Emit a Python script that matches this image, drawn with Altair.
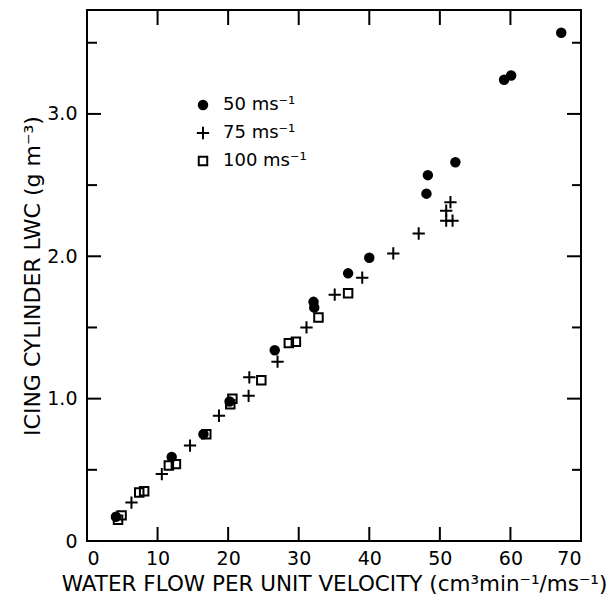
import altair as alt
import pandas as pd

series_labels = ["50 ms⁻¹", "75 ms⁻¹", "100 ms⁻¹"]

x50 = [4.1, 12.0, 16.5, 20.2, 26.6, 32.1, 32.2, 37.0, 40.0, 48.1, 48.3, 52.2, 59.1, 60.1, 67.2]
y50 = [0.17, 0.59, 0.75, 0.98, 1.34, 1.68, 1.64, 1.88, 1.99, 2.44, 2.57, 2.66, 3.24, 3.27, 3.57]

x75 = [6.3, 10.6, 14.6, 18.7, 22.9, 23.0, 27.0, 31.1, 35.1, 39.0, 43.4, 47.0, 51.5, 50.9, 50.9, 51.8]
y75 = [0.27, 0.47, 0.67, 0.88, 1.02, 1.15, 1.26, 1.50, 1.73, 1.85, 2.02, 2.16, 2.38, 2.32, 2.25, 2.25]

x100 = [4.4, 4.9, 7.4, 8.1, 11.6, 12.6, 16.9, 20.3, 20.6, 24.7, 28.6, 29.6, 32.8, 37.0]
y100 = [0.15, 0.18, 0.34, 0.35, 0.53, 0.54, 0.75, 0.96, 1.00, 1.13, 1.39, 1.40, 1.57, 1.74]

x_tick_values = [10, 20, 30, 40, 50, 60]
x_label_values = [0, 10, 20, 30, 40, 50, 60, 70]
y_label_values = [0, 1, 2, 3]
y_major_values = [1, 2, 3]
y_minor_values = [0.5, 1.5, 2.5, 3.5]

rows = []
for lab, xs_, ys_ in zip(series_labels, [x50, x75, x100], [y50, y75, y100]):
    for a, b in zip(xs_, ys_):
        rows.append({"x": a, "y": b, "series": lab})
df = pd.DataFrame(rows)

W, H = 494, 531
FONT = "DejaVu Sans"
SYM = 72
PLUS = "M-1.45,0H1.45M0,-1.45V1.45"

xscale = alt.Scale(domain=[0, 70], nice=False, zero=False)
yscale = alt.Scale(domain=[0, 3.73], nice=False, zero=False)

x_axis = alt.Axis(
    values=x_label_values, ticks=False, domain=False, grid=False,
    labelFontSize=19, labelFont=FONT, labelColor="black", labelPadding=8,
    title="WATER FLOW PER UNIT VELOCITY (cm³min⁻¹/ms⁻¹)",
    titleFont=FONT, titleFontSize=21.5, titleFontWeight="normal", titleColor="black",
    titleX=W / 2, titleY=49, titleBaseline="alphabetic", titleAnchor="middle",
)
y_axis = alt.Axis(
    values=y_label_values, ticks=False, domain=False, grid=False,
    labelFontSize=19, labelFont=FONT, labelColor="black", labelPadding=10,
    labelExpr="datum.value == 0 ? '0' : format(datum.value, '.1f')",
    title="ICING CYLINDER LWC (g m⁻³)",
    titleFont=FONT, titleFontSize=22, titleFontWeight="normal", titleColor="black",
    titleX=-55, titleY=H / 2, titleBaseline="middle", titleAnchor="middle",
)

X = alt.X("x:Q", scale=xscale, axis=x_axis)
Y = alt.Y("y:Q", scale=yscale, axis=y_axis)

leg = alt.Legend(
    title=None, orient="none", legendX=107, legendY=86,
    labelFont=FONT, labelFontSize=18, labelColor="black",
    labelOffset=11, rowPadding=8, padding=0, symbolStrokeWidth=2,
    symbolStrokeColor="black", symbolSize=SYM,
)

points = alt.Chart(df).mark_point(strokeWidth=2, opacity=1, size=SYM).encode(
    x=X,
    y=Y,
    shape=alt.Shape("series:N", scale=alt.Scale(domain=series_labels,
                    range=["circle", PLUS, "square"]), legend=leg),
    fill=alt.Fill("series:N", scale=alt.Scale(domain=series_labels,
                  range=["black", "transparent", "transparent"]), legend=leg),
    stroke=alt.Stroke("series:N", scale=alt.Scale(domain=series_labels,
                      range=["black", "black", "black"]), legend=leg),
)

xt = pd.DataFrame({"x": x_tick_values})
ymaj = pd.DataFrame({"y": y_major_values})
ymin = pd.DataFrame({"y": y_minor_values})

def rule(data):
    return alt.Chart(data).mark_rule(color="black", strokeWidth=2)

bottom_ticks = rule(xt).encode(x=X, y=alt.value(H), y2=alt.value(H - 14))
top_ticks = rule(xt).encode(x=X, y=alt.value(0), y2=alt.value(15))
left_major = rule(ymaj).encode(y=Y, x=alt.value(0), x2=alt.value(14))
left_minor = rule(ymin).encode(y=Y, x=alt.value(0), x2=alt.value(10))
right_major = rule(ymaj).encode(y=Y, x=alt.value(W), x2=alt.value(W - 14))
right_minor = rule(ymin).encode(y=Y, x=alt.value(W), x2=alt.value(W - 9))

chart = alt.layer(
    bottom_ticks, top_ticks, left_major, left_minor, right_major, right_minor, points
).properties(
    width=W, height=H,
    autosize=alt.AutoSizeParams(type="none"),
    padding={"left": 87, "top": 10, "right": 29, "bottom": 63},
    background="white",
).configure_view(
    stroke="black", strokeWidth=2
)

chart.save("out.html", embed_options={"renderer": "svg", "actions": False})
